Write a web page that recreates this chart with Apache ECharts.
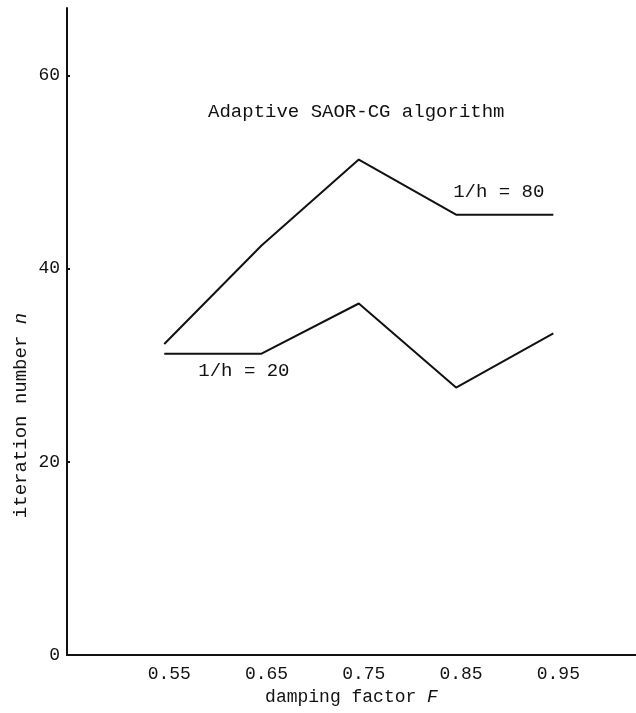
<!DOCTYPE html>
<html>
<head>
<meta charset="utf-8">
<script src="https://cdn.jsdelivr.net/npm/echarts@6/dist/echarts.min.js"></script>
<style>
  html, body { margin: 0; padding: 0; background: #fff; }
  #chart { width: 636px; height: 713px; }
</style>
</head>
<body>
<div id="chart"></div>
<script>
// damping factor F
const dampingFactors = [0.55, 0.65, 0.75, 0.85, 0.95]
// iteration number n
const iterH80 = [32.2, 42.4, 51.3, 45.6, 45.6]
const iterH20 = [31.2, 31.2, 36.4, 27.7, 33.3]
const xTicks = [0.55, 0.65, 0.75, 0.85, 0.95]
const yTicks = [0, 20, 40, 60]

const font = '"Liberation Mono", "DejaVu Sans Mono", monospace'
const ink = '#111'

const chart = echarts.init(document.getElementById('chart'))

const option = {
  backgroundColor: '#fff',
  animation: false,
  grid: { left: 67, right: 0, top: 8, bottom: 58 },
  xAxis: {
    type: 'value',
    min: 0.45,
    max: 1.035,
    name: 'damping factor {i|F}',
    nameLocation: 'middle',
    nameGap: 30,
    nameTextStyle: {
      fontFamily: font, fontSize: 18, color: ink,
      rich: { i: { fontFamily: font, fontSize: 18, fontStyle: 'italic', color: ink } }
    },
    axisLine: { lineStyle: { color: ink, width: 2 } },
    axisTick: { show: false },
    splitLine: { show: false },
    axisLabel: {
      customValues: xTicks,
      margin: 10,
      fontFamily: font, fontSize: 18, color: ink,
      padding: [0, 0, 0, 10],
      formatter: v => v.toFixed(2)
    }
  },
  yAxis: {
    type: 'value',
    min: 0,
    max: 67,
    axisLine: { lineStyle: { color: ink, width: 2 } },
    axisTick: { customValues: yTicks, length: 3, inside: true, lineStyle: { color: ink, width: 2 } },
    splitLine: { show: false },
    axisLabel: {
      customValues: yTicks,
      margin: 7,
      fontFamily: font, fontSize: 18, color: ink
    }
  },
  series: [
    {
      name: '1/h = 80',
      type: 'line',
      data: dampingFactors.map((f, i) => [f, iterH80[i]]),
      symbol: 'none',
      lineStyle: { color: ink, width: 2 }
    },
    {
      name: '1/h = 20',
      type: 'line',
      data: dampingFactors.map((f, i) => [f, iterH20[i]]),
      symbol: 'none',
      lineStyle: { color: ink, width: 2 }
    }
  ]
}

chart.setOption(option)

// text annotations anchored in data coordinates
const at = (x, y) => chart.convertToPixel({ gridIndex: 0 }, [x, y])
const txt = (pos, text, extra) => Object.assign({
  type: 'text',
  x: pos[0], y: pos[1],
  style: { text, fontFamily: font, fontSize: 19, fill: ink, verticalAlign: 'middle' }
}, extra || {})

const titlePos = at(0.595, 56.2)
const h80Pos = at(0.847, 48.0)
const h20Pos = at(0.585, 29.4)
const yNamePos = at(0.45, 24.8)

chart.setOption({
  graphic: [
    txt(titlePos, 'Adaptive SAOR-CG algorithm'),
    txt(h80Pos, '1/h = 80'),
    txt(h20Pos, '1/h = 20'),
    {
      type: 'text',
      x: 21, y: yNamePos[1],
      rotation: Math.PI / 2,
      style: {
        text: 'iteration number {i|n}',
        fontFamily: font, fontSize: 19, fill: ink,
        align: 'center', verticalAlign: 'middle',
        rich: { i: { fontFamily: font, fontSize: 19, fontStyle: 'italic', fill: ink } }
      }
    }
  ]
})

window.addEventListener('resize', () => chart.resize())
</script>
</body>
</html>
